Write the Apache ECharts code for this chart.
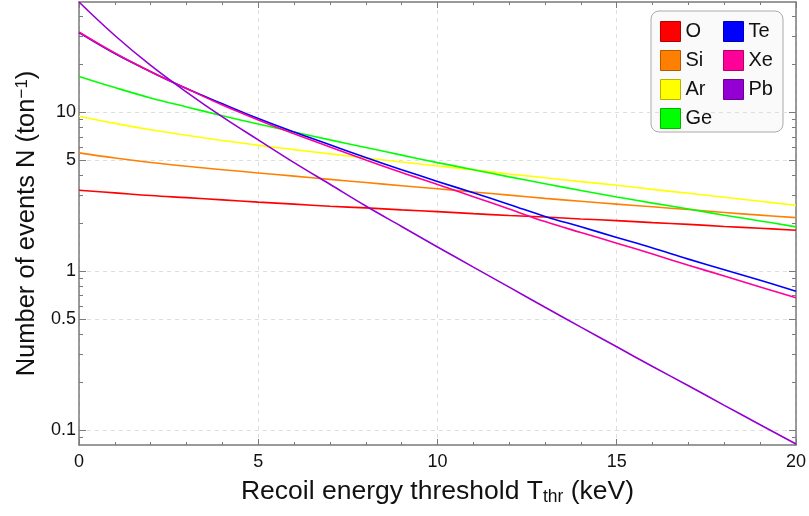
<!DOCTYPE html>
<html>
<head>
<meta charset="utf-8">
<script src="https://cdn.jsdelivr.net/npm/echarts@6/dist/echarts.min.js"></script>
<style>
  html, body { margin: 0; padding: 0; background: #fff; }
  #chart { width: 809px; height: 516px; }
</style>
</head>
<body>
<div id="chart"></div>
<script>
var dom = document.getElementById('chart');
var myChart = echarts.init(dom);

// recoil energy threshold (keV)
var thresholds = [0, 1, 2, 3, 4, 5, 6, 7, 8, 9, 10, 11, 12, 13, 14, 15, 16, 17, 18, 19, 20];

// number of events per ton
var nO  = [3.23, 3.11, 2.99, 2.90, 2.81, 2.72, 2.64, 2.56, 2.50, 2.43, 2.37, 2.30, 2.24, 2.19, 2.13, 2.08, 2.02, 1.97, 1.91, 1.86, 1.81];
var nSi = [5.55, 5.15, 4.83, 4.57, 4.35, 4.15, 3.96, 3.78, 3.61, 3.45, 3.30, 3.15, 3.01, 2.87, 2.75, 2.64, 2.54, 2.44, 2.34, 2.25, 2.17];
var nAr = [9.44, 8.51, 7.76, 7.16, 6.64, 6.19, 5.82, 5.47, 5.15, 4.86, 4.59, 4.34, 4.09, 3.87, 3.66, 3.47, 3.27, 3.09, 2.92, 2.75, 2.60];
var nGe = [16.8, 14.3, 12.3, 10.8, 9.51, 8.43, 7.50, 6.70, 6.00, 5.37, 4.82, 4.35, 3.92, 3.55, 3.22, 2.93, 2.68, 2.46, 2.25, 2.07, 1.90];
var nTe = [31.7, 23.4, 18.0, 14.1, 11.3, 9.12, 7.50, 6.24, 5.19, 4.35, 3.67, 3.11, 2.63, 2.21, 1.90, 1.63, 1.40, 1.19, 1.02, 0.875, 0.748];
var nXe = [32.0, 23.6, 18.0, 14.1, 11.1, 8.95, 7.31, 6.04, 5.00, 4.17, 3.51, 2.94, 2.46, 2.05, 1.75, 1.50, 1.28, 1.09, 0.931, 0.794, 0.679];
var nPb = [49.4, 30.4, 19.7, 13.4, 9.35, 6.70, 4.82, 3.52, 2.57, 1.91, 1.42, 1.06, 0.793, 0.592, 0.444, 0.334, 0.251, 0.190, 0.143, 0.108, 0.0817];

var names  = ['O', 'Si', 'Ar', 'Ge', 'Te', 'Xe', 'Pb'];
var counts = [nO, nSi, nAr, nGe, nTe, nXe, nPb];
var colors  = ['#ff0000', '#ff8000', '#ffff00', '#00ff00', '#0000ff', '#ff0099', '#9400d3'];
var borders = ['#b30000', '#b35a00', '#b3b300', '#00b300', '#0000b3', '#b3006b', '#680094'];

// y ticks (log scale, drawn on a log10 value axis)
var yMajor = [0.1, 0.5, 1, 5, 10];
var yMinor = [0.09, 0.2, 0.3, 0.4, 0.6, 0.7, 0.8, 0.9, 2, 3, 4, 6, 7, 8, 9, 20, 30, 40];
var yMin = 0.0805, yMax = 49.4;

var lg = function (v) { return Math.log10(v); };
var FONT = 'Liberation Sans, Arial, sans-serif';
var FRAME = '#7a7a7a';

var series = names.map(function (n, i) {
  return {
    name: n,
    type: 'line',
    showSymbol: false,
    smooth: 0.4,
    color: colors[i],
    lineStyle: { width: 1.6, color: colors[i] },
    data: thresholds.map(function (t, j) { return [t, lg(counts[i][j])]; })
  };
});

function legendData(list) {
  return list.map(function (n) {
    var i = names.indexOf(n);
    return { name: n, itemStyle: { color: colors[i], borderColor: borders[i], borderWidth: 1 } };
  });
}

function yAxisOf(pos, ticks, len, main) {
  return {
    type: 'value',
    position: pos,
    min: lg(yMin),
    max: lg(yMax),
    axisLine: { show: main, onZero: false, lineStyle: { color: FRAME, width: 1.5 } },
    axisTick: {
      show: true, inside: true, length: len,
      customValues: ticks.map(lg),
      lineStyle: { color: FRAME, width: 1 }
    },
    axisLabel: {
      show: main && pos === 'left',
      customValues: ticks.map(lg),
      margin: 3,
      fontSize: 18,
      fontFamily: FONT,
      color: '#111',
      formatter: function (v) { return String(+Math.pow(10, v).toPrecision(2)); }
    },
    splitLine: {
      show: main && pos === 'left',
      lineStyle: { color: '#dedede', type: [4, 4], width: 1 }
    }
  };
}

function xAxisOf(pos) {
  var bottom = pos === 'bottom';
  return {
    type: 'value',
    position: pos,
    min: 0,
    max: 20,
    interval: 5,
    axisLine: { show: true, onZero: false, lineStyle: { color: FRAME, width: 1.5 } },
    axisTick: { show: true, inside: true, length: 6, lineStyle: { color: FRAME } },
    minorTick: { show: true, splitNumber: 5, length: 3, lineStyle: { color: FRAME } },
    axisLabel: { show: bottom, margin: 8, fontSize: 18, fontFamily: FONT, color: '#111' },
    splitLine: { show: bottom, lineStyle: { color: '#dedede', type: [4, 4], width: 1 } },
    name: bottom ? '{t|Recoil energy threshold T}{s|thr}{t| (keV)}' : '',
    nameLocation: 'middle',
    nameGap: 33,
    nameTextStyle: {
      color: '#111',
      rich: {
        t: { fontSize: 26.5, fontFamily: FONT, color: '#111' },
        s: { fontSize: 17.5, fontFamily: FONT, color: '#111', verticalAlign: 'bottom', padding: [10, 0, 0, 0] }
      }
    }
  };
}

var yLeft = yAxisOf('left', yMajor, 7, true);
yLeft.name = '{t|Number of events N (ton}{p|\u22121}{t|)}';
yLeft.nameLocation = 'middle';
yLeft.nameGap = 34;
yLeft.nameTextStyle = {
  color: '#111',
  rich: {
    t: { fontSize: 25.5, fontFamily: FONT, color: '#111' },
    p: { fontSize: 17, fontFamily: FONT, color: '#111', verticalAlign: 'top', padding: [0, 0, 10, 0] }
  }
};

var option = {
  animation: false,
  backgroundColor: '#fff',
  grid: { left: 79, right: 12, top: 2, bottom: 71 },
  xAxis: [xAxisOf('bottom'), xAxisOf('top')],
  yAxis: [
    yLeft,
    yAxisOf('left', yMinor, 4, false),
    yAxisOf('right', yMajor, 7, true),
    yAxisOf('right', yMinor, 4, false)
  ],
  graphic: [{
    type: 'rect',
    z: 0,
    shape: { x: 651, y: 11, width: 132, height: 121, r: 8 },
    style: { fill: '#fafafa', stroke: '#aaaaaa', lineWidth: 1 }
  }],
  legend: [
    {
      orient: 'vertical', left: 660, top: 21, padding: 0,
      itemWidth: 20, itemHeight: 20, itemGap: 8, icon: 'rect',
      textStyle: { fontSize: 20, fontFamily: FONT, color: '#111' },
      data: legendData(['O', 'Si', 'Ar', 'Ge'])
    },
    {
      orient: 'vertical', left: 723, top: 21, padding: 0,
      itemWidth: 20, itemHeight: 20, itemGap: 8, icon: 'rect',
      textStyle: { fontSize: 20, fontFamily: FONT, color: '#111' },
      data: legendData(['Te', 'Xe', 'Pb'])
    }
  ],
  series: series
};

if (option && typeof option === 'object') {
  myChart.setOption(option, true);
}
</script>
</body>
</html>
